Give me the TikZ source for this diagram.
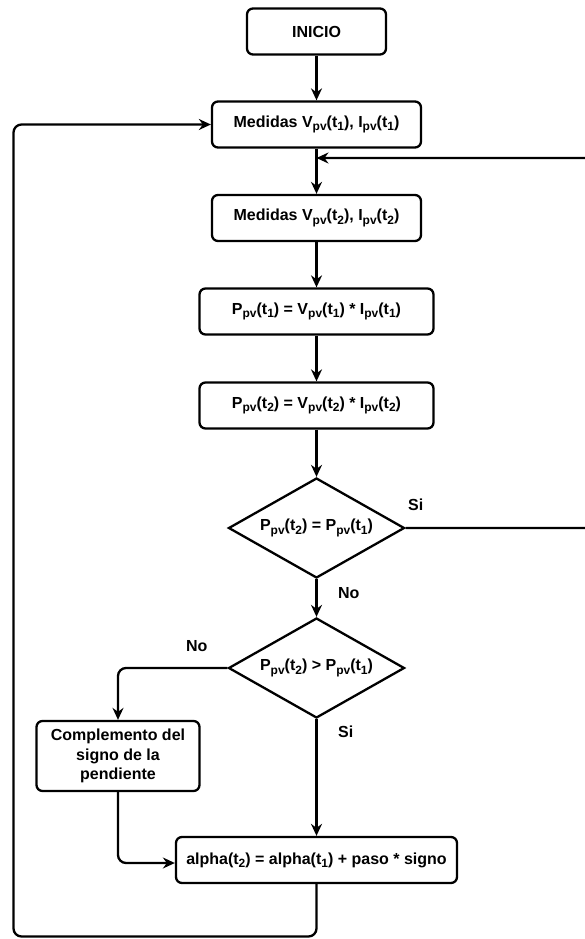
\documentclass[tikz,border=0pt]{standalone}
\usepackage{fontspec}
\setmainfont{Liberation Sans}
\usetikzlibrary{arrows.meta,shapes.geometric}
\newcommand{\sbs}[1]{\raisebox{-3.5pt}{\fontsize{12}{12}\selectfont #1}}
\begin{document}
\begin{tikzpicture}[x=1pt,y=-1pt,line width=2.3pt,
  every node/.style={font=\fontsize{16}{19.5}\selectfont\bfseries},
  box/.style={draw,rounded corners=6pt,align=center,inner sep=0pt},
  dec/.style={draw,diamond,inner sep=0pt,minimum width=176pt,minimum height=100pt,aspect=1.76},
  arr/.style={-{Stealth[length=12pt,width=11pt,inset=4pt]}},
  lbl/.style={anchor=west,inner sep=0pt}
]
\useasboundingbox (0,0) rectangle (585,939);
\node[box,minimum width=139pt,minimum height=46pt] (start) at (316.5,31.5) {INICIO};
\node[box,minimum width=209pt,minimum height=46pt] (m1) at (316.5,124.5) {Medidas V\sbs{pv}(t\sbs{1}), I\sbs{pv}(t\sbs{1})};
\node[box,minimum width=209pt,minimum height=46pt] (m2) at (316.5,218) {Medidas V\sbs{pv}(t\sbs{2}), I\sbs{pv}(t\sbs{2})};
\node[box,minimum width=234pt,minimum height=46pt] (p1) at (316.5,311.5) {P\sbs{pv}(t\sbs{1}) = V\sbs{pv}(t\sbs{1}) * I\sbs{pv}(t\sbs{1})};
\node[box,minimum width=234pt,minimum height=46pt] (p2) at (316.5,405.5) {P\sbs{pv}(t\sbs{2}) = V\sbs{pv}(t\sbs{2}) * I\sbs{pv}(t\sbs{2})};
\node[dec] (d1) at (316.5,528) {P\sbs{pv}(t\sbs{2}) = P\sbs{pv}(t\sbs{1})};
\node[dec] (d2) at (316.5,668) {P\sbs{pv}(t\sbs{2}) > P\sbs{pv}(t\sbs{1})};
\node[box,minimum width=163pt,minimum height=70pt] (comp) at (118,756) {Complemento del\\signo de la\\pendiente};
\node[box,minimum width=281pt,minimum height=46pt] (alpha) at (316.5,860) {alpha(t\sbs{2}) = alpha(t\sbs{1}) + paso * signo};
\node[lbl] (si1) at (407,505) {Si};
\node[lbl] (no1) at (337,593) {No};
\node[lbl] (no2) at (185,646) {No};
\node[lbl] (si2) at (337,732) {Si};
\coordinate (j) at (316.5,158);
\draw[arr] (start) -- (m1);
\draw[arr] (m1) -- (m2);
\draw[arr] (m2) -- (p1);
\draw[arr] (p1) -- (p2);
\draw[arr] (p2) -- (d1);
\draw[arr] (d1) -- (d2);
\draw[arr] (d2) -- (alpha);
\draw[arr,rounded corners=8pt] (d2.west) -| (comp.north);
\draw[arr,rounded corners=8pt] (comp.south) |- ([yshift=-3pt]alpha.west);
\draw[arr,rounded corners=8pt] (d1.east) -- (600,528) -- (600,158) -- (j);
\draw[arr,rounded corners=8pt] (alpha.south) -- (316.5,936.5) -- (13.5,936.5) -- (13.5,124.5) -- (m1.west);
\end{tikzpicture}
\end{document}
